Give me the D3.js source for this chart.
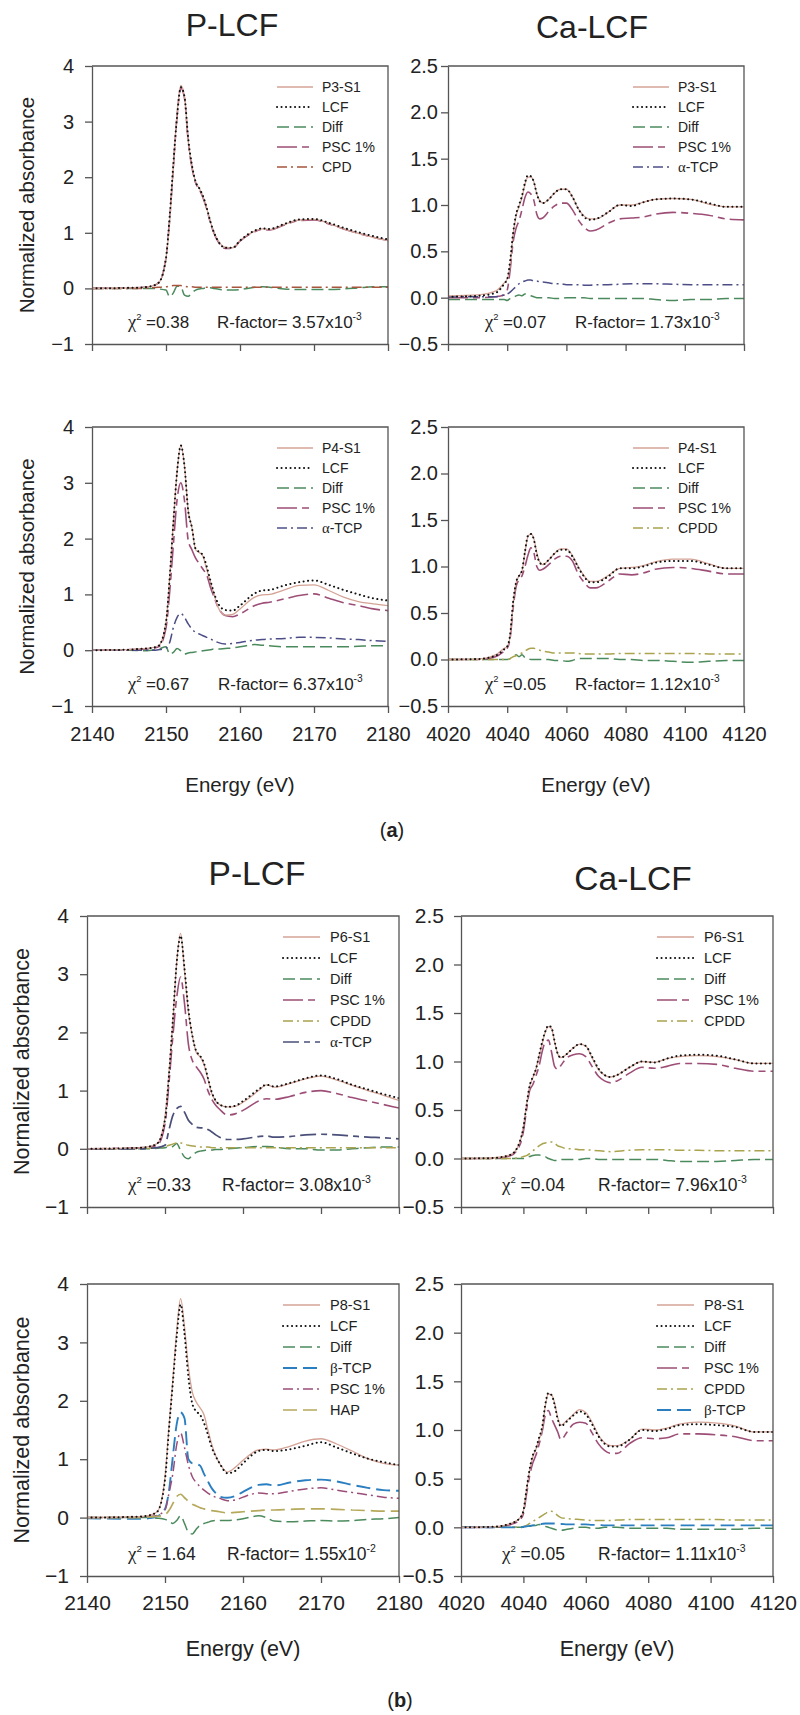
<!DOCTYPE html>
<html>
<head>
<meta charset="utf-8">
<script src="https://cdn.jsdelivr.net/npm/d3@7"></script>
<style>
body{margin:0;background:#fff}
svg{display:block}
text{font-family:"Liberation Sans",Arial,sans-serif;fill:#222}
</style>
</head>
<body>
<div class="canvas"></div>
<script>
// energy grids (eV)
const energyP = [2140, 2145, 2147, 2148, 2149, 2150, 2150.5, 2151, 2151.5,
  2152, 2152.5, 2153, 2153.5, 2154, 2154.5, 2155, 2155.5, 2156,
  2156.5, 2157, 2158, 2159, 2160, 2162, 2163, 2164,
  2166, 2168, 2170, 2172, 2174, 2176, 2178, 2180];
const energyCa = [4020, 4030, 4036, 4039, 4040, 4041, 4042, 4043, 4044,
  4045, 4046, 4047, 4048, 4049, 4050, 4051, 4052, 4054,
  4056, 4058, 4060, 4062, 4064, 4066, 4068, 4070, 4074,
  4078, 4082, 4086, 4090, 4096, 4102, 4108, 4114, 4120];

const xTicksP = [2140, 2150, 2160, 2170, 2180];
const xTicksCa = [4020, 4040, 4060, 4080, 4100, 4120];
const yTicksP = [-1, 0, 1, 2, 3, 4];
const yTicksCa = [-0.5, 0, 0.5, 1, 1.5, 2, 2.5];

// ---- (a) P3-S1, P K-edge
const p3S1 = [0, 0.01, 0.02, 0.04, 0.1, 0.55, 1.2, 2.2, 3.15,
  3.65, 3.45, 2.65, 2.2, 1.92, 1.8, 1.65, 1.44, 1.2,
  1.0, 0.87, 0.74, 0.73, 0.86, 1.03, 1.07, 1.06,
  1.15, 1.23, 1.24, 1.17, 1.07, 0.99, 0.92, 0.86];
const p3Lcf = [0, 0.01, 0.02, 0.04, 0.1, 0.55, 1.3, 2.25, 3.1,
  3.62, 3.45, 2.7, 2.22, 1.92, 1.8, 1.66, 1.45, 1.2,
  1.0, 0.86, 0.73, 0.73, 0.86, 1.04, 1.08, 1.07,
  1.16, 1.24, 1.25, 1.18, 1.09, 1.01, 0.94, 0.88];
const p3Diff = [0, 0, 0, 0, -0.01, -0.03, -0.15, -0.08, 0.04,
  0.03, -0.12, -0.14, -0.08, -0.03, -0.01, 0, 0.01, 0.01,
  0, -0.01, -0.03, -0.03, -0.02, 0.02, 0.03, 0.02,
  -0.01, -0.02, -0.02, -0.02, -0.01, 0.01, 0.03, 0.03];
const p3Psc = [0, 0.01, 0.02, 0.04, 0.1, 0.55, 1.25, 2.2, 3.1,
  3.6, 3.42, 2.65, 2.18, 1.9, 1.78, 1.63, 1.43, 1.18,
  0.99, 0.85, 0.72, 0.72, 0.85, 1.02, 1.06, 1.05,
  1.14, 1.22, 1.23, 1.16, 1.07, 0.99, 0.92, 0.86];
const p3Cpd = [0, 0, 0, 0.01, 0.02, 0.03, 0.04, 0.05, 0.05,
  0.05, 0.04, 0.03, 0.03, 0.02, 0.02, 0.02, 0.02, 0.02,
  0.02, 0.02, 0.02, 0.02, 0.02, 0.02, 0.02, 0.02,
  0.02, 0.02, 0.02, 0.02, 0.02, 0.02, 0.02, 0.02];

// ---- (a) P3-S1, Ca K-edge
const ca3S1 = [0.02, 0.03, 0.07, 0.16, 0.2, 0.35, 0.68, 0.88, 0.98,
  1.08, 1.22, 1.3, 1.3, 1.25, 1.12, 1.05, 1.02, 1.06,
  1.13, 1.17, 1.17, 1.09, 0.96, 0.88, 0.85, 0.85, 0.92,
  1.0, 1.0, 1.03, 1.06, 1.07, 1.06, 1.01, 0.98, 0.98];
const ca3Lcf = [0.01, 0.02, 0.05, 0.15, 0.2, 0.4, 0.7, 0.9, 1.0,
  1.1, 1.24, 1.32, 1.31, 1.25, 1.12, 1.04, 1.02, 1.06,
  1.13, 1.17, 1.17, 1.09, 0.96, 0.87, 0.84, 0.85, 0.92,
  1.0, 0.99, 1.03, 1.06, 1.07, 1.06, 1.02, 0.98, 0.98];
const ca3Diff = [-0.02, -0.02, -0.02, -0.02, -0.03, -0.01, 0.0, 0.02, 0.03,
  0.02, 0.04, 0.03, 0.02, 0.01, 0.0, 0.0, 0.0, 0.0,
  -0.01, -0.01, 0.0, 0.0, 0.0, 0.0, -0.01, -0.01, -0.01,
  -0.01, -0.01, -0.01, -0.02, -0.03, -0.02, -0.02, -0.01, -0.01];
const ca3Psc = [0.0, 0.0, 0.01, 0.03, 0.08, 0.3, 0.6, 0.75, 0.83,
  0.95, 1.08, 1.14, 1.12, 1.05, 0.9, 0.85, 0.86, 0.93,
  0.99, 1.02, 1.02, 0.95, 0.84, 0.76, 0.72, 0.73, 0.8,
  0.85, 0.86, 0.87, 0.9, 0.92, 0.91, 0.89, 0.85, 0.84];
const ca3ATcp = [0.01, 0.01, 0.01, 0.03, 0.04, 0.06, 0.09, 0.12, 0.15,
  0.17, 0.18, 0.19, 0.19, 0.18, 0.18, 0.17, 0.17, 0.16,
  0.15, 0.15, 0.14, 0.14, 0.14, 0.135, 0.135, 0.14, 0.14,
  0.145, 0.15, 0.15, 0.15, 0.145, 0.14, 0.14, 0.14, 0.14];

// ---- (a) P4-S1, P K-edge
const p4S1 = [0, 0.01, 0.03, 0.04, 0.08, 0.5, 1.3, 2.3, 3.2,
  3.67, 3.3, 2.5, 2.2, 1.8, 1.75, 1.68, 1.45, 1.22,
  1.0, 0.78, 0.63, 0.64, 0.74, 0.95, 0.99, 1.0,
  1.08, 1.16, 1.17, 1.07, 0.95, 0.87, 0.83, 0.8];
const p4Lcf = [0, 0.01, 0.03, 0.04, 0.08, 0.5, 1.3, 2.3, 3.2,
  3.67, 3.3, 2.5, 2.2, 1.82, 1.76, 1.7, 1.5, 1.25,
  1.02, 0.85, 0.72, 0.71, 0.8, 1.02, 1.07, 1.08,
  1.16, 1.22, 1.25, 1.17, 1.08, 1.0, 0.93, 0.89];
const p4Diff = [0, 0, -0.01, 0, 0.02, 0.06, -0.07, -0.04, 0.03,
  -0.01, -0.07, -0.05, -0.04, -0.03, -0.02, -0.01, 0, 0.01,
  0.02, 0.02, 0.03, 0.04, 0.06, 0.1, 0.09, 0.08,
  0.06, 0.06, 0.06, 0.06, 0.06, 0.07, 0.08, 0.08];
const p4Psc = [0, 0.01, 0.02, 0.03, 0.06, 0.4, 1.05, 1.9, 2.7,
  3.0, 2.68, 1.97, 1.8, 1.65, 1.55, 1.45, 1.35, 1.13,
  0.95, 0.78, 0.62, 0.6, 0.65, 0.8, 0.84, 0.86,
  0.92, 0.98, 1.01, 0.93, 0.85, 0.8, 0.74, 0.71];
const p4ATcp = [0, 0, 0, 0, 0.01, 0.04, 0.14, 0.41, 0.59,
  0.66, 0.59, 0.47, 0.38, 0.32, 0.29, 0.26, 0.23, 0.2,
  0.17, 0.14, 0.11, 0.12, 0.14, 0.18, 0.19, 0.2,
  0.21, 0.23, 0.23, 0.22, 0.2, 0.19, 0.17, 0.16];

// ---- (a) P4-S1, Ca K-edge
const ca4S1 = [0, 0.005, 0.05, 0.12, 0.14, 0.25, 0.6, 0.82, 0.9,
  0.95, 1.15, 1.32, 1.35, 1.3, 1.15, 1.05, 1.02, 1.07,
  1.14, 1.19, 1.19, 1.12, 1.0, 0.9, 0.84, 0.84, 0.9,
  0.98, 0.99, 1.01, 1.05, 1.08, 1.08, 1.03, 0.98, 0.98];
const ca4Lcf = [0, 0.005, 0.04, 0.11, 0.14, 0.27, 0.62, 0.83, 0.9,
  0.96, 1.16, 1.33, 1.35, 1.29, 1.13, 1.04, 1.02, 1.07,
  1.14, 1.18, 1.18, 1.11, 0.99, 0.89, 0.83, 0.83, 0.89,
  0.98, 0.98, 1.0, 1.04, 1.06, 1.06, 1.02, 0.98, 0.98];
const ca4Diff = [0, 0, 0, 0, 0, 0.01, 0.03, 0.05, 0.03,
  0.05, 0.02, 0.01, 0, 0, 0, 0, 0, 0,
  -0.01, -0.01, -0.02, -0.01, 0.01, 0.01, 0.01, 0.01, 0.01,
  0, 0, -0.01, -0.01, -0.02, -0.03, -0.02, -0.01, -0.01];
const ca4Psc = [0, 0, 0.03, 0.09, 0.12, 0.23, 0.55, 0.78, 0.86,
  0.9, 1.0, 1.12, 1.2, 1.15, 1.0, 0.96, 0.97, 1.02,
  1.08, 1.11, 1.11, 1.06, 0.92, 0.83, 0.77, 0.77, 0.84,
  0.92, 0.91, 0.93, 0.97, 0.99, 0.98, 0.95, 0.92, 0.92];
const ca4Cpdd = [0, 0, 0, 0, 0, 0.01, 0.03, 0.04, 0.06,
  0.07, 0.09, 0.11, 0.12, 0.12, 0.11, 0.1, 0.09, 0.08,
  0.07, 0.07, 0.07, 0.07, 0.065, 0.06, 0.06, 0.06, 0.06,
  0.065, 0.065, 0.065, 0.065, 0.065, 0.065, 0.06, 0.06, 0.06];

// ---- (b) P6-S1, P K-edge
const p6S1 = [0, 0.01, 0.02, 0.04, 0.09, 0.55, 1.29, 2.15, 3.2,
  3.7, 3.05, 2.35, 1.95, 1.66, 1.58, 1.45, 1.2, 0.95,
  0.82, 0.76, 0.72, 0.73, 0.8, 1.0, 1.1, 1.06,
  1.12, 1.2, 1.25, 1.18, 1.09, 1.0, 0.92, 0.83];
const p6Lcf = [0, 0.01, 0.02, 0.04, 0.09, 0.5, 1.25, 2.2, 3.2,
  3.66, 3.1, 2.4, 1.95, 1.68, 1.6, 1.47, 1.22, 0.97,
  0.83, 0.76, 0.72, 0.74, 0.82, 1.02, 1.1, 1.07,
  1.13, 1.21, 1.26, 1.2, 1.1, 1.02, 0.94, 0.87];
const p6Diff = [0, 0, 0, 0, 0.01, 0.02, 0.03, 0.04, 0.09,
  -0.03, -0.14, -0.17, -0.11, -0.06, -0.04, -0.03, -0.02, -0.02,
  -0.01, -0.01, 0, 0.01, 0.02, 0.04, 0.04, 0.03,
  0, 0, -0.02, -0.02, 0, 0.02, 0.03, 0.03];
const p6Psc = [0, 0.01, 0.02, 0.03, 0.06, 0.43, 1.12, 1.92, 2.6,
  2.95, 2.5, 1.8, 1.52, 1.41, 1.32, 1.2, 1.0, 0.85,
  0.75, 0.68, 0.58, 0.6, 0.66, 0.82, 0.86, 0.85,
  0.9, 0.97, 1.0, 0.95, 0.88, 0.82, 0.76, 0.7];
const p6Cpdd = [0, 0, 0, 0.01, 0.02, 0.04, 0.06, 0.08, 0.1,
  0.1, 0.08, 0.06, 0.05, 0.04, 0.03, 0.03, 0.03, 0.02,
  0.02, 0.02, 0.02, 0.02, 0.02, 0.02, 0.02, 0.02,
  0.02, 0.02, 0.02, 0.02, 0.02, 0.02, 0.02, 0.02];
const p6ATcp = [0, 0, 0, 0.01, 0.02, 0.06, 0.32, 0.57, 0.69,
  0.73, 0.63, 0.49, 0.42, 0.37, 0.36, 0.36, 0.33, 0.29,
  0.24, 0.2, 0.16, 0.16, 0.17, 0.21, 0.22, 0.2,
  0.21, 0.24, 0.25, 0.24, 0.22, 0.2, 0.19, 0.17];

// ---- (b) P6-S1, Ca K-edge
const ca6S1 = [0, 0.005, 0.04, 0.18, 0.33, 0.55, 0.74, 0.83, 0.92,
  1.05, 1.18, 1.3, 1.36, 1.34, 1.2, 1.08, 1.04, 1.08,
  1.14, 1.18, 1.16, 1.04, 0.92, 0.86, 0.84, 0.86, 0.94,
  1.0, 0.99, 1.03, 1.05, 1.06, 1.05, 1.02, 0.98, 0.98];
const ca6Lcf = [0, 0.005, 0.04, 0.19, 0.32, 0.55, 0.75, 0.84, 0.92,
  1.06, 1.2, 1.31, 1.37, 1.35, 1.21, 1.08, 1.04, 1.08,
  1.14, 1.18, 1.16, 1.05, 0.93, 0.86, 0.84, 0.86, 0.94,
  1.0, 0.99, 1.03, 1.06, 1.07, 1.06, 1.02, 0.98, 0.98];
const ca6Diff = [0, 0, 0, 0, 0, 0.01, 0.02, 0.03, 0.035,
  0.035, 0.03, 0.02, 0, -0.01, -0.02, -0.02, -0.01, -0.01,
  -0.01, -0.01, 0, 0, -0.01, -0.01, -0.01, -0.01, -0.01,
  -0.01, -0.01, -0.02, -0.03, -0.03, -0.03, -0.02, -0.01, -0.01];
const ca6Psc = [0.0, 0.0, 0.03, 0.15, 0.28, 0.5, 0.7, 0.76, 0.85,
  0.95, 1.1, 1.2, 1.22, 1.1, 0.95, 0.92, 0.96, 1.04,
  1.07, 1.08, 1.05, 0.95, 0.85, 0.8, 0.78, 0.8, 0.88,
  0.94, 0.93, 0.95, 0.98, 0.98, 0.97, 0.93, 0.9, 0.9];
const ca6Cpdd = [0, 0, 0, 0.01, 0.02, 0.03, 0.05, 0.08, 0.1,
  0.13, 0.15, 0.16, 0.17, 0.17, 0.16, 0.13, 0.12, 0.1,
  0.1, 0.09, 0.09, 0.085, 0.08, 0.075, 0.07, 0.075, 0.085,
  0.09, 0.09, 0.09, 0.085, 0.085, 0.08, 0.08, 0.08, 0.08];

// ---- (b) P8-S1, P K-edge
const p8S1 = [0, 0.01, 0.02, 0.04, 0.1, 0.7, 1.55, 2.35, 3.2,
  3.75, 3.27, 2.58, 2.15, 1.98, 1.88, 1.76, 1.5, 1.25,
  1.06, 0.93, 0.78, 0.86, 0.98, 1.16, 1.17, 1.16,
  1.22, 1.31, 1.35, 1.26, 1.14, 1.01, 0.93, 0.9];
const p8Lcf = [0, 0.01, 0.02, 0.04, 0.1, 0.65, 1.5, 2.3, 3.1,
  3.65, 3.15, 2.41, 1.95, 1.82, 1.76, 1.62, 1.42, 1.2,
  1.05, 0.93, 0.76, 0.8, 0.93, 1.14, 1.16, 1.14,
  1.17, 1.23, 1.29, 1.2, 1.1, 1.01, 0.95, 0.9];
const p8Diff = [0, 0, 0, 0, -0.01, -0.03, -0.06, -0.1, -0.05,
  0.03, -0.1, -0.25, -0.28, -0.2, -0.13, -0.1, -0.08, -0.06,
  -0.05, -0.05, -0.05, -0.04, -0.02, 0.03, 0, -0.06,
  -0.07, -0.06, -0.05, -0.06, -0.05, -0.03, -0.02, 0];
const p8BTcp = [-0.01, -0.02, -0.02, -0.01, 0.02, 0.15, 0.45, 1.04, 1.6,
  1.8, 1.7, 1.0, 0.93, 0.92, 0.89, 0.75, 0.62, 0.5,
  0.42, 0.36, 0.34, 0.37, 0.44, 0.56, 0.57, 0.55,
  0.6, 0.64, 0.65, 0.62, 0.56, 0.51, 0.47, 0.46];
const p8Psc = [0, 0, 0.01, 0.02, 0.04, 0.13, 0.41, 0.75, 1.25,
  1.45, 1.2, 0.9, 0.7, 0.6, 0.53, 0.47, 0.42, 0.38,
  0.35, 0.33, 0.29, 0.3, 0.35, 0.42, 0.41, 0.41,
  0.45, 0.49, 0.51, 0.47, 0.43, 0.39, 0.35, 0.33];
const p8Hap = [0, 0, 0, 0.01, 0.02, 0.05, 0.12, 0.24, 0.36,
  0.4, 0.34, 0.28, 0.23, 0.2, 0.17, 0.15, 0.13, 0.12,
  0.11, 0.1, 0.08, 0.09, 0.1, 0.12, 0.13, 0.13,
  0.14, 0.15, 0.15, 0.14, 0.13, 0.12, 0.11, 0.11];

// ---- (b) P8-S1, Ca K-edge
const ca8S1 = [0, 0.005, 0.04, 0.1, 0.17, 0.38, 0.58, 0.72, 0.8,
  0.9, 1.0, 1.24, 1.37, 1.36, 1.28, 1.13, 1.05, 1.1,
  1.16, 1.21, 1.18, 1.08, 0.95, 0.87, 0.84, 0.84, 0.9,
  1.01, 1.0, 1.02, 1.06, 1.08, 1.07, 1.04, 0.98, 0.98];
const ca8Lcf = [0, 0.005, 0.04, 0.1, 0.17, 0.39, 0.6, 0.74, 0.81,
  0.92, 1.03, 1.26, 1.38, 1.36, 1.26, 1.11, 1.04, 1.09,
  1.15, 1.19, 1.16, 1.06, 0.94, 0.86, 0.83, 0.83, 0.9,
  1.0, 0.99, 1.01, 1.05, 1.06, 1.05, 1.03, 0.98, 0.98];
const ca8Diff = [0, 0, 0, 0, 0, 0.01, 0.01, 0.02, 0.02,
  0.03, 0.02, 0.01, 0, -0.01, -0.02, -0.03, -0.03, -0.02,
  -0.01, 0, 0, -0.01, -0.01, 0, 0, 0, -0.01,
  -0.01, -0.01, -0.01, -0.02, -0.02, -0.02, -0.02, -0.01, -0.01];
const ca8Psc = [0, 0, 0.03, 0.08, 0.14, 0.34, 0.53, 0.66, 0.74,
  0.85, 0.98, 1.15, 1.2, 1.12, 1.05, 0.98, 0.9, 0.98,
  1.06, 1.08, 1.07, 0.97, 0.86, 0.79, 0.76, 0.76, 0.86,
  0.92, 0.91, 0.92, 0.96, 0.96, 0.95, 0.93, 0.89, 0.89];
const ca8Cpdd = [0, 0, 0, 0.005, 0.01, 0.02, 0.04, 0.06, 0.08,
  0.1, 0.12, 0.14, 0.16, 0.165, 0.15, 0.12, 0.1, 0.09,
  0.085, 0.08, 0.075, 0.07, 0.07, 0.07, 0.07, 0.075, 0.08,
  0.08, 0.08, 0.08, 0.08, 0.08, 0.08, 0.075, 0.075, 0.075];
const ca8BTcp = [0, 0, 0, 0, 0.005, 0.01, 0.015, 0.02, 0.025,
  0.03, 0.035, 0.04, 0.04, 0.04, 0.04, 0.035, 0.035, 0.03,
  0.03, 0.03, 0.03, 0.025, 0.025, 0.02, 0.02, 0.02, 0.02,
  0.02, 0.02, 0.02, 0.02, 0.02, 0.02, 0.02, 0.02, 0.02];

//line styles
const styles = {
  sample:  {c:'#d4a396', w:1.3, d:null},
  lcf:     {c:'#111111', w:2.0, d:'0.1,4.4', cap:'round'},
  diff:    {c:'#4b8a5c', w:1.5, d:'12,5'},
  psc:     {c:'#9d4e77', w:1.6, d:'20,5,7,5'},
  cpd:     {c:'#a8553e', w:1.5, d:'10,4,2,4'},
  atcp:    {c:'#4c4d86', w:1.5, d:'10,4,2,4'},
  atcpL:   {c:'#4a5079', w:1.7, d:'16,5,6,5'},
  cpdd:    {c:'#aba34e', w:1.5, d:'10,4,2,4'},
  btcp:    {c:'#2b7fc1', w:1.9, d:'14,6'},
  pscDD:   {c:'#9b4d78', w:1.5, d:'10,4,2,4'},
  hap:     {c:'#b6a95b', w:1.7, d:'14,6'}
};

const W = 800, H = 1715;
const svg = d3.select('.canvas').append('svg').attr('width', W).attr('height', H);

const A = {legFs:14, legDy:20, leg:[111, 75, 66], tickFs:20, noteFs:17};
const B = {legFs:14.5, legDy:21, leg:[116, 79, 69], tickFs:21, noteFs:17.5};

const panels = [
  Object.assign({x0:92, x1:388, y0:66, y1:344, kind:'P', showX:false, yPad:11, chiDx:36, rDx:125,
    chi:'=0.38', rf:'3.57', rexp:'-3',
    items:[['P3-S1', p3S1, 'sample'], ['LCF', p3Lcf, 'lcf'], ['Diff', p3Diff, 'diff'], ['PSC 1%', p3Psc, 'psc'], ['CPD', p3Cpd, 'cpd']]}, A),
  Object.assign({x0:448, x1:744, y0:66, y1:344, kind:'Ca', showX:false, yPad:3, chiDx:37, rDx:127,
    chi:'=0.07', rf:'1.73', rexp:'-3',
    items:[['P3-S1', ca3S1, 'sample'], ['LCF', ca3Lcf, 'lcf'], ['Diff', ca3Diff, 'diff'], ['PSC 1%', ca3Psc, 'psc'], ['α-TCP', ca3ATcp, 'atcp']]}, A),
  Object.assign({x0:92, x1:388, y0:427, y1:706, kind:'P', showX:true, yPad:11, xPad:14, xTitleDy:86, chiDx:36, rDx:126,
    chi:'=0.67', rf:'6.37', rexp:'-3',
    items:[['P4-S1', p4S1, 'sample'], ['LCF', p4Lcf, 'lcf'], ['Diff', p4Diff, 'diff'], ['PSC 1%', p4Psc, 'psc'], ['α-TCP', p4ATcp, 'atcp']]}, A),
  Object.assign({x0:448, x1:744, y0:427, y1:706, kind:'Ca', showX:true, yPad:3, xPad:14, xTitleDy:86, chiDx:37, rDx:127,
    chi:'=0.05', rf:'1.12', rexp:'-3',
    items:[['P4-S1', ca4S1, 'sample'], ['LCF', ca4Lcf, 'lcf'], ['Diff', ca4Diff, 'diff'], ['PSC 1%', ca4Psc, 'psc'], ['CPDD', ca4Cpdd, 'cpdd']]}, A),
  Object.assign({x0:87, x1:399, y0:916, y1:1207, kind:'P', showX:false, yPad:11, chiDx:41, rDx:135,
    chi:'=0.33', rf:'3.08', rexp:'-3',
    items:[['P6-S1', p6S1, 'sample'], ['LCF', p6Lcf, 'lcf'], ['Diff', p6Diff, 'diff'], ['PSC 1%', p6Psc, 'psc'], ['CPDD', p6Cpdd, 'cpdd'], ['α-TCP', p6ATcp, 'atcpL']]}, B),
  Object.assign({x0:461, x1:773, y0:916, y1:1207, kind:'Ca', showX:false, yPad:10, chiDx:41, rDx:137,
    chi:'=0.04', rf:'7.96', rexp:'-3',
    items:[['P6-S1', ca6S1, 'sample'], ['LCF', ca6Lcf, 'lcf'], ['Diff', ca6Diff, 'diff'], ['PSC 1%', ca6Psc, 'psc'], ['CPDD', ca6Cpdd, 'cpdd']]}, B),
  Object.assign({x0:87, x1:399, y0:1284, y1:1576, kind:'P', showX:true, yPad:11, xPad:12, xTitleDy:80, chiDx:41, rDx:140,
    chi:'= 1.64', rf:'1.55', rexp:'-2',
    items:[['P8-S1', p8S1, 'sample'], ['LCF', p8Lcf, 'lcf'], ['Diff', p8Diff, 'diff'], ['β-TCP', p8BTcp, 'btcp'], ['PSC 1%', p8Psc, 'pscDD'], ['HAP', p8Hap, 'hap']]}, B),
  Object.assign({x0:461, x1:773, y0:1284, y1:1576, kind:'Ca', showX:true, yPad:10, xPad:12, xTitleDy:80, chiDx:41, rDx:137,
    chi:'=0.05', rf:'1.11', rexp:'-3',
    items:[['P8-S1', ca8S1, 'sample'], ['LCF', ca8Lcf, 'lcf'], ['Diff', ca8Diff, 'diff'], ['PSC 1%', ca8Psc, 'psc'], ['CPDD', ca8Cpdd, 'cpdd'], ['β-TCP', ca8BTcp, 'btcp']]}, B)
];

function applyStyle(sel, s){
  sel.attr('fill','none').attr('stroke', s.c).attr('stroke-width', s.w)
    .attr('stroke-dasharray', s.d).attr('stroke-linecap', s.cap || 'butt');
}

function labelText(sel, label){
  // greek letter in a serif face like the original
  if(/^[αβ]/.test(label)){
    sel.append('tspan').attr('font-family','"Liberation Serif",serif').attr('font-size','1.05em').text(label[0]);
    sel.append('tspan').text(label.slice(1));
  } else sel.text(label);
}

panels.forEach(function(p, pi){
  const isP = p.kind === 'P';
  const energy = isP ? energyP : energyCa;
  const x = d3.scaleLinear().domain(isP ? [2140, 2180] : [4020, 4120]).range([p.x0, p.x1]);
  const y = d3.scaleLinear().domain(isP ? [-1, 4] : [-0.5, 2.5]).range([p.y1, p.y0]);
  const g = svg.append('g');

  g.append('clipPath').attr('id', 'clip' + pi).append('rect')
    .attr('x', p.x0).attr('y', p.y0).attr('width', p.x1 - p.x0).attr('height', p.y1 - p.y0);

  const line = d3.line()
    .defined(d => d[1] != null)
    .x(d => x(d[0])).y(d => y(d[1]))
    .curve(d3.curveMonotoneX);

  //components first, then sample, LCF on top
  const order = p.items.slice(2).concat([p.items[0], p.items[1]]);
  const curves = g.append('g').attr('clip-path', 'url(#clip' + pi + ')');
  order.forEach(function(it){
    const pts = energy.map((e, i) => [e, it[1][i]]);
    curves.append('path').datum(pts).attr('d', line).call(applyStyle, styles[it[2]]);
  });

  // axes
  const yAxis = d3.axisLeft(y).tickValues(isP ? yTicksP : yTicksCa)
    .tickSize(7).tickSizeOuter(0).tickPadding(p.yPad)
    .tickFormat(isP ? d3.format('d') : d3.format('.1f'));
  const xAxis = d3.axisBottom(x).tickValues(isP ? xTicksP : xTicksCa)
    .tickSize(7).tickSizeOuter(0).tickPadding(p.xPad || 10)
    .tickFormat(p.showX ? d3.format('d') : '');

  const ya = g.append('g').attr('transform', `translate(${p.x0},0)`).call(yAxis);
  const xa = g.append('g').attr('transform', `translate(0,${p.y1})`).call(xAxis);
  [ya, xa].forEach(function(a){
    a.attr('font-size', p.tickFs).attr('font-family', '"Liberation Sans",Arial,sans-serif');
    a.selectAll('path,line').attr('stroke', '#555').attr('stroke-width', 1.3);
    a.selectAll('text').attr('fill', '#222');
  });
  g.append('path')
    .attr('d', `M${p.x0},${p.y0}H${p.x1}V${p.y1}`)
    .attr('fill', 'none').attr('stroke', '#555').attr('stroke-width', 1.3);

  // legend
  const lg = g.append('g');
  p.items.forEach(function(it, i){
    const ly = p.y0 + 21 + i * p.legDy;
    lg.append('line').attr('x1', p.x1 - p.leg[0]).attr('x2', p.x1 - p.leg[1])
      .attr('y1', ly).attr('y2', ly).call(applyStyle, styles[it[2]]);
    lg.append('text').attr('x', p.x1 - p.leg[2]).attr('y', ly)
      .attr('dy', '0.36em').attr('font-size', p.legFs).call(labelText, it[0]);
  });

  // fit statistics
  const base = p.y1 - 16;
  const t = g.append('text').attr('x', p.x0 + p.chiDx).attr('y', base).attr('font-size', p.noteFs);
  t.append('tspan').attr('font-family', '"Liberation Serif",serif').attr('font-size', p.noteFs * 1.08).text('χ');
  t.append('tspan').attr('font-size', p.noteFs * 0.55).attr('dy', -p.noteFs * 0.45).text('2');
  t.append('tspan').attr('dy', p.noteFs * 0.45).text(' ' + p.chi);
  const r = g.append('text').attr('x', p.x0 + p.rDx).attr('y', base).attr('font-size', p.noteFs);
  r.append('tspan').text('R-factor= ' + p.rf + 'x10');
  r.append('tspan').attr('font-size', p.noteFs * 0.6).attr('dy', -p.noteFs * 0.45).text(p.rexp);

  // y title on left column
  if(isP){
    const cy = (p.y0 + p.y1) / 2;
    svg.append('text').attr('transform', `translate(${p.x0 - 58},${cy}) rotate(-90)`)
      .attr('text-anchor', 'middle').attr('font-size', p.tickFs + 0.5)
      .text('Normalized absorbance');
  }
  // x title under the bottom row
  if(p.showX){
    svg.append('text').attr('x', (p.x0 + p.x1) / 2).attr('y', p.y1 + p.xTitleDy)
      .attr('text-anchor', 'middle').attr('font-size', p.tickFs + 0.5)
      .text('Energy (eV)');
  }
});

// column titles
const titles = [['P-LCF', 232, 36, 32], ['Ca-LCF', 592, 38, 32], ['P-LCF', 257, 885, 33.5], ['Ca-LCF', 633, 890, 33.5]];
svg.selectAll('.title').data(titles).enter().append('text')
  .attr('class', 'title')
  .attr('x', d => d[1]).attr('y', d => d[2])
  .attr('text-anchor', 'middle').attr('font-size', d => d[3])
  .text(d => d[0]);

// part labels
[['a', 392, 837], ['b', 400, 1707]].forEach(function(d){
  const t = svg.append('text').attr('x', d[1]).attr('y', d[2]).attr('text-anchor', 'middle')
    .attr('font-size', 20).attr('font-family', '"Liberation Serif",serif');
  t.append('tspan').text('(');
  t.append('tspan').attr('font-weight', 'bold').text(d[0]);
  t.append('tspan').text(')');
});
</script>
</body>
</html>
